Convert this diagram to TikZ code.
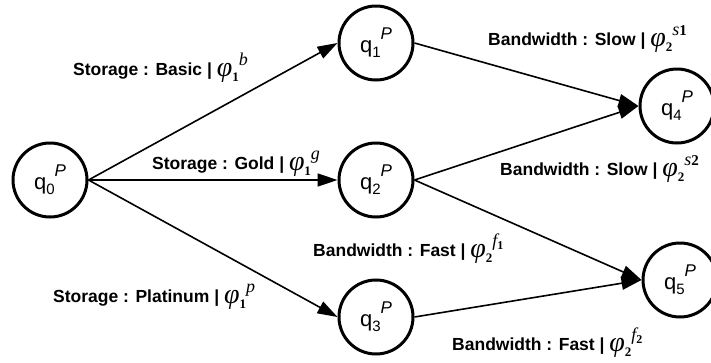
\documentclass[tikz,border=0pt]{standalone}
\usepackage{graphicx}
\usepackage[no-math]{fontspec}
\setmainfont{Liberation Sans}
\newfontfamily\serfam{Liberation Serif}
\usetikzlibrary{arrows.meta}
\newcommand{\qlab}[1]{\fontsize{22}{22}\selectfont q\raisebox{-5pt}{\fontsize{15}{15}\selectfont #1}\raisebox{13pt}{\fontsize{17}{17}\selectfont\itshape P}}
\newcommand{\phil}[2]{{\serfam\mdseries\itshape\fontsize{28}{28}\selectfont\raisebox{-1pt}{φ}}\raisebox{-6pt}{\serfam\bfseries\fontsize{13}{13}\selectfont #1}\raisebox{10pt}{\serfam\mdseries\itshape\fontsize{18}{18}\selectfont #2}}
\newcommand{\supnum}[1]{{\upshape\bfseries\fontsize{15}{15}\selectfont #1}}
\newcommand{\subnum}[1]{\raisebox{-3pt}{\upshape\bfseries\fontsize{12}{12}\selectfont #1}}
\begin{document}
\begin{tikzpicture}[x=1pt,y=-1pt,
  state/.style={circle,draw,line width=3pt,minimum size=74pt,inner sep=0pt},
  edge/.style={line width=1.6pt,-{Triangle[length=20pt,width=13pt]}},
  lab/.style={anchor=base west,inner sep=0pt,font=\fontsize{17.5}{17.5}\selectfont\bfseries}]
\useasboundingbox (0,0) rectangle (711,362);
\node[state] (q0) at (50,180) {\qlab{0}};
\node[state] (q1) at (376,43) {\qlab{1}};
\node[state] (q2) at (376,180) {\qlab{2}};
\node[state] (q3) at (376,317) {\qlab{3}};
\node[state] (q4) at (677,106) {\qlab{4}};
\node[state] (q5) at (680,280) {\qlab{5}};
\draw[edge] (q0.east) -- (q1.west);
\draw[edge] (q0.east) -- (q2.west);
\draw[edge] (q0.east) -- (q3.west);
\draw[edge] (q1.east) -- (q4.west);
\draw[edge] (q2.east) -- (q4.west);
\draw[edge] (q2.east) -- (q5.west);
\draw[edge] (q3.east) -- (q5.west);
\node[lab] (l1) at (73,75) {Storage : Basic | \phil{1}{b}};
\node[lab] (l2) at (152,169) {Storage : Gold | \phil{1}{g}};
\node[lab] (l3) at (53,302) {Storage : Platinum | \phil{1}{p}};
\node[lab] (l4) at (488,45) {Bandwidth : Slow | \phil{2}{s\supnum{1}}};
\node[lab] (l5) at (500,175) {Bandwidth : Slow | \phil{2}{s\supnum{2}}};
\node[lab] (l6) at (313,256) {Bandwidth : Fast | \phil{2}{f\subnum{1}}};
\node[lab] (l7) at (452,350) {Bandwidth : Fast | \phil{2}{f\subnum{2}}};
\end{tikzpicture}
\end{document}
